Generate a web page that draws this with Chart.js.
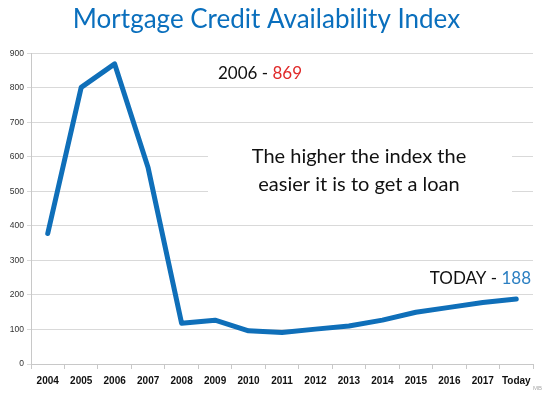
<!DOCTYPE html>
<html>
<head>
<meta charset="utf-8">
<script src="https://cdn.jsdelivr.net/npm/chart.js@4"></script>
<style>
  html, body { margin: 0; padding: 0; background: #fff; }
  #wrap { width: 546px; height: 393px; position: relative; }
</style>
</head>
<body>
<div id="wrap"><canvas id="mcai"></canvas></div>
<script>
const years = ['2004', '2005', '2006', '2007', '2008', '2009', '2010', '2011',
               '2012', '2013', '2014', '2015', '2016', '2017', 'Today'];
const mcai = [378, 801, 869, 568, 118, 127, 96, 91, 101, 110, 127, 150, 164, 178, 188];
const yTicks = [0, 100, 200, 300, 400, 500, 600, 700, 800, 900];

const blue = '#0f6fb9';
const textFont = 'Lato, "Open Sans", sans-serif';

// callouts and the white note box behind the explanation text
const notes = {
    id: 'notes',
    beforeDatasetsDraw(chart) {
        const ctx = chart.ctx;
        ctx.save();
        ctx.fillStyle = '#fff';
        ctx.fillRect(208, 132, 304, 80);
        ctx.restore();
    },
    afterDatasetsDraw(chart) {
        const ctx = chart.ctx;
        ctx.save();
        ctx.textBaseline = 'middle';
        ctx.font = '17px ' + textFont;

        // peak callout
        const peak = mcai[2];
        let s1 = years[2] + ' - ';
        ctx.fillStyle = '#111';
        ctx.textAlign = 'left';
        ctx.fillText(s1, 218, 74);
        ctx.fillStyle = '#e02a2a';
        ctx.fillText(String(peak), 218 + ctx.measureText(s1).width, 74);

        // latest callout
        const last = mcai[mcai.length - 1];
        let s2 = 'TODAY - ';
        let w = ctx.measureText(s2 + last).width;
        ctx.fillStyle = '#111';
        ctx.fillText(s2, 531 - w, 279);
        ctx.fillStyle = '#2b7fc2';
        ctx.fillText(String(last), 531 - w + ctx.measureText(s2).width, 279);

        // explanation
        ctx.font = '20px ' + textFont;
        ctx.fillStyle = '#111';
        ctx.textAlign = 'center';
        ctx.fillText('The higher the index the', 359, 157);
        ctx.fillText('easier it is to get a loan', 359, 185);

        // source mark
        ctx.font = '6px Arial';
        ctx.fillStyle = '#aaa';
        ctx.textAlign = 'right';
        ctx.fillText('MB', 542, 388);
        ctx.restore();
    }
};

new Chart(document.getElementById('mcai'), {
    type: 'line',
    data: {
        labels: years,
        datasets: [{
            data: mcai,
            borderColor: blue,
            borderWidth: 5,
            borderJoinStyle: 'round',
            borderCapStyle: 'round',
            pointRadius: 0,
            tension: 0,
            fill: false
        }]
    },
    options: {
        responsive: true,
        maintainAspectRatio: false,
        animation: false,
        layout: { padding: { top: 0, right: 13, left: 0, bottom: 0 } },
        plugins: {
            legend: { display: false },
            tooltip: { enabled: false },
            title: {
                display: true,
                text: 'Mortgage Credit Availability Index',
                color: '#0a6fbd',
                font: { family: textFont, size: 26, weight: 'normal' },
                padding: { top: 4, bottom: 18 }
            }
        },
        scales: {
            y: {
                min: 0,
                max: 900,
                afterBuildTicks: (s) => { s.ticks = yTicks.map(v => ({ value: v })); },
                afterFit: (s) => { s.width = 31; },
                ticks: {
                    color: '#333',
                    font: { family: 'Arial', size: 8.5 },
                    padding: 3
                },
                grid: { color: '#d9d9d9', lineWidth: 1, tickLength: 4 },
                border: { color: '#c8c8c8' }
            },
            x: {
                offset: true,
                afterFit: (s) => { s.height = 29; },
                ticks: {
                    color: '#111',
                    font: { family: 'Arial', size: 10, weight: 'bold' },
                    padding: 6,
                    maxRotation: 0,
                    autoSkip: false
                },
                grid: {
                    offset: true,
                    drawOnChartArea: false,
                    color: '#c8c8c8',
                    tickLength: 5
                },
                border: { color: '#c8c8c8' }
            }
        }
    },
    plugins: [notes]
});
</script>
</body>
</html>
